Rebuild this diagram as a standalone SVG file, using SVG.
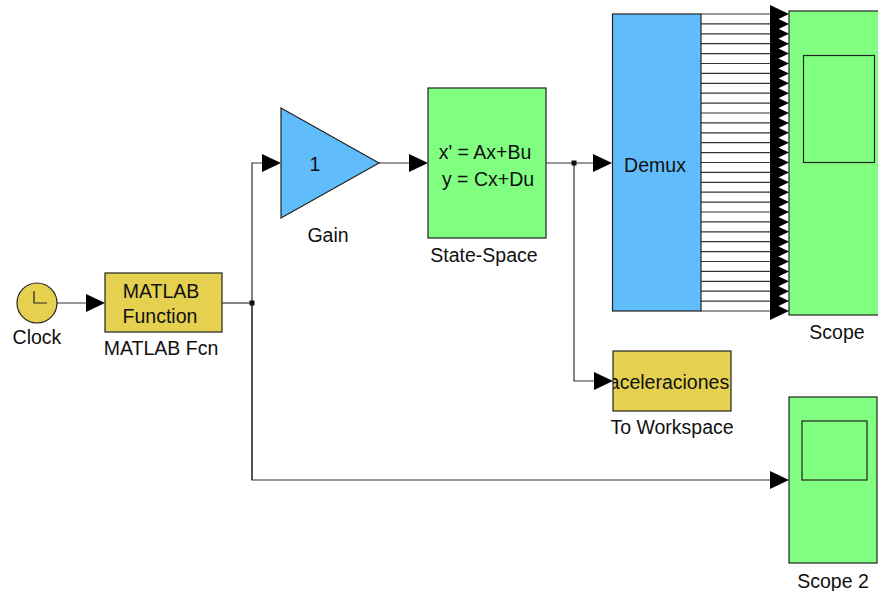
<svg xmlns="http://www.w3.org/2000/svg" xmlns:xlink="http://www.w3.org/1999/xlink" width="878" height="591" viewBox="0 0 878 591">
<style>
  .blk { stroke: #222; stroke-width: 1.2; }
  .yel { fill: #E6D050; }
  .blu { fill: #60BCFA; }
  .grn { fill: #80FF80; }
  .wire { fill: none; stroke: #333; stroke-width: 1.2; }
  text { font-family: "Liberation Sans", Arial, sans-serif; font-size: 19.5px; fill: #111; }
  .c { text-anchor: middle; }
</style>
<defs>
  <path id="ah" d="M-19,-9 L0,0 L-19,9 Z" fill="#000"/>
  <clipPath id="twclip"><rect x="613" y="351" width="118" height="60"/></clipPath>
</defs>
<rect width="878" height="591" fill="#fff"/>

<g id="connectors">
  <path class="wire" d="M57,303 H90"/>
  <path class="wire" d="M222,303 H252"/>
  <path class="wire" d="M252,480 V163 H265"/>
  <path class="wire" d="M252,303 V480 H775"/>
  <path class="wire" d="M379,163 H412"/>
  <path class="wire" d="M546,163 H597"/>
  <path class="wire" d="M574,163 V381 H598"/>
  <rect x="249.5" y="300.5" width="5" height="5" fill="#111"/>
  <rect x="571.5" y="160.5" width="5" height="5" fill="#111"/>
  <use xlink:href="#ah" x="105" y="303"/>
  <use xlink:href="#ah" x="281" y="163"/>
  <use xlink:href="#ah" x="428" y="163"/>
  <use xlink:href="#ah" x="612" y="163"/>
  <use xlink:href="#ah" x="613" y="381"/>
  <use xlink:href="#ah" x="789" y="480"/>
  <g id="demux-outputs">
    <path class="wire" d="M701,14H772 M701,23.9H772 M701,33.8H772 M701,43.7H772 M701,53.6H772 M701,63.5H772 M701,73.4H772 M701,83.3H772 M701,93.2H772 M701,103.1H772 M701,113H772 M701,122.9H772 M701,132.8H772 M701,142.7H772 M701,152.6H772 M701,162.5H772 M701,172.4H772 M701,182.3H772 M701,192.2H772 M701,202.1H772 M701,212H772 M701,221.9H772 M701,231.8H772 M701,241.7H772 M701,251.6H772 M701,261.5H772 M701,271.4H772 M701,281.3H772 M701,291.2H772 M701,301.1H772 M701,311H772"/>
    <use xlink:href="#ah" x="789" y="14"/>
    <use xlink:href="#ah" x="789" y="23.9"/>
    <use xlink:href="#ah" x="789" y="33.8"/>
    <use xlink:href="#ah" x="789" y="43.7"/>
    <use xlink:href="#ah" x="789" y="53.6"/>
    <use xlink:href="#ah" x="789" y="63.5"/>
    <use xlink:href="#ah" x="789" y="73.4"/>
    <use xlink:href="#ah" x="789" y="83.3"/>
    <use xlink:href="#ah" x="789" y="93.2"/>
    <use xlink:href="#ah" x="789" y="103.1"/>
    <use xlink:href="#ah" x="789" y="113"/>
    <use xlink:href="#ah" x="789" y="122.9"/>
    <use xlink:href="#ah" x="789" y="132.8"/>
    <use xlink:href="#ah" x="789" y="142.7"/>
    <use xlink:href="#ah" x="789" y="152.6"/>
    <use xlink:href="#ah" x="789" y="162.5"/>
    <use xlink:href="#ah" x="789" y="172.4"/>
    <use xlink:href="#ah" x="789" y="182.3"/>
    <use xlink:href="#ah" x="789" y="192.2"/>
    <use xlink:href="#ah" x="789" y="202.1"/>
    <use xlink:href="#ah" x="789" y="212"/>
    <use xlink:href="#ah" x="789" y="221.9"/>
    <use xlink:href="#ah" x="789" y="231.8"/>
    <use xlink:href="#ah" x="789" y="241.7"/>
    <use xlink:href="#ah" x="789" y="251.6"/>
    <use xlink:href="#ah" x="789" y="261.5"/>
    <use xlink:href="#ah" x="789" y="271.4"/>
    <use xlink:href="#ah" x="789" y="281.3"/>
    <use xlink:href="#ah" x="789" y="291.2"/>
    <use xlink:href="#ah" x="789" y="301.1"/>
    <use xlink:href="#ah" x="789" y="311"/>
  </g>
</g>

<g id="clock">
  <circle cx="37" cy="303" r="20" class="yel blk"/>
  <path d="M34,291 V303 H47" fill="none" stroke="#222" stroke-width="1.2"/>
  <text x="37" y="344" class="c">Clock</text>
</g>

<g id="matlab-fcn">
  <rect x="105" y="273" width="117" height="59" class="yel blk"/>
  <text x="161" y="298" class="c">MATLAB</text>
  <text x="160" y="323" class="c">Function</text>
  <text x="161" y="355" class="c">MATLAB Fcn</text>
</g>

<g id="gain">
  <polygon points="281,108 379,163 281,218" class="blu blk"/>
  <text x="315" y="171" class="c">1</text>
  <text x="328" y="242" class="c">Gain</text>
</g>

<g id="state-space">
  <rect x="428" y="88" width="118" height="150" class="grn blk"/>
  <text x="485" y="159" class="c">x' = Ax+Bu</text>
  <text x="488" y="186" class="c">y = Cx+Du</text>
  <text x="484" y="262" class="c">State-Space</text>
</g>

<g id="demux">
  <rect x="612.5" y="14" width="88.5" height="297" class="blu blk"/>
  <text x="655" y="172" class="c">Demux</text>
</g>

<g id="scope">
  <rect x="789" y="11" width="100" height="304" class="grn blk"/>
  <rect x="803.5" y="55.5" width="71" height="107" fill="none" stroke="#222" stroke-width="1.2"/>
  <text x="837" y="339" class="c">Scope</text>
</g>

<g id="to-workspace">
  <rect x="613" y="351" width="118" height="60" class="yel blk"/>
  <text x="669" y="389" class="c" clip-path="url(#twclip)">aceleraciones</text>
  <text x="672" y="434" class="c">To Workspace</text>
</g>

<g id="scope2">
  <rect x="789" y="397" width="88" height="166" class="grn blk"/>
  <rect x="802" y="421" width="65" height="59" fill="none" stroke="#222" stroke-width="1.2"/>
  <text x="833" y="588" class="c">Scope 2</text>
</g>
</svg>
